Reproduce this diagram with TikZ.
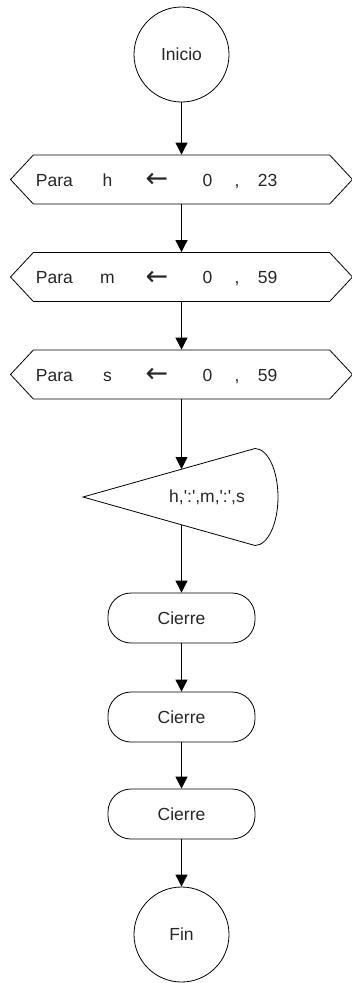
\documentclass[tikz,border=0pt]{standalone}
\usepackage{fontspec}
\setmainfont{Liberation Sans}
\newfontfamily\arrowfont{DejaVu Sans}
\usetikzlibrary{shapes.geometric, shapes.misc, shapes.symbols, calc, arrows.meta, positioning}
\tikzstyle{line} = [draw, -{Triangle[length=12pt, width=12pt]}]

\begin{document}
\begin{tikzpicture}[auto, node distance=100pt, line width=0.8pt, every node/.style={font=\fontsize{17.5}{20}\selectfont, text=black!85}]

  % Define styles
  \tikzstyle{terminal} = [circle, minimum size=95pt, inner sep=0pt, draw=black]
  \tikzstyle{loophead} = [signal, signal to=west and east, signal pointer angle=94, minimum width=342pt, minimum height=49pt, inner sep=0pt, draw=black]
  \tikzstyle{closing} = [rectangle, rounded corners=23pt, minimum width=147pt, minimum height=50pt, draw=black]
  \tikzstyle{field} = [inner sep=0pt, anchor=base]

  \useasboundingbox (0,0) rectangle (352pt,-983pt);

  % Place nodes
  \node [terminal] (inicio) at (181.5pt,-54.5pt) {Inicio};
  \node [loophead, below of=inicio, node distance=125pt] (forh) {};
  \node [loophead, below of=forh, node distance=97.5pt] (form) {};
  \node [loophead, below of=form, node distance=97.5pt] (fors) {};
  \node [below of=fors, node distance=122.5pt, xshift=25.5pt] (show) {h,\textquotesingle:\textquotesingle,m,\textquotesingle:\textquotesingle,s};
  \node [closing, below of=show, node distance=121pt, xshift=-25.5pt] (cierres) {Cierre};
  \node [closing, below of=cierres, node distance=99pt] (cierrem) {Cierre};
  \node [closing, below of=cierrem, node distance=97pt] (cierreh) {Cierre};
  \node [terminal, below of=cierreh, node distance=120.5pt] (fin) {Fin};

  % Fields of the loop heads
  \foreach \row/\var/\last in {forh/h/23, form/m/59, fors/s/59} {
    \node [field, anchor=base west] (\row-para) at ([xshift=-146pt, yshift=-6.5pt]\row.center) {Para};
    \node [field] (\row-var) at ([xshift=-74pt, yshift=-6.5pt]\row.center) {\var};
    \node [field, anchor=center] (\row-arrow) at ([xshift=-24.5pt, yshift=-1pt]\row.center) {\arrowfont\fontsize{27}{27}\selectfont ←};
    \node [field] (\row-first) at ([xshift=26pt, yshift=-6.5pt]\row.center) {0};
    \node [field] (\row-comma) at ([xshift=55.5pt, yshift=-6.5pt]\row.center) {,};
    \node [field, anchor=base west] (\row-last) at ([xshift=76pt, yshift=-6.5pt]\row.center) {\last};
  }

  % Display shape round the output
  \draw ([xshift=-124pt]show.center) -- ([xshift=48pt, yshift=48.5pt]show.center)
    arc[start angle=90, end angle=-90, x radius=23pt, y radius=48.5pt] -- cycle;
  \coordinate (showin) at ([xshift=-25.5pt, yshift=28pt]show.center);
  \coordinate (showout) at ([xshift=-25.5pt, yshift=-28pt]show.center);

  % Draw edges
  \path [line] (inicio) -- (forh);
  \path [line] (forh) -- (form);
  \path [line] (form) -- (fors);
  \path [line] (fors) -- (showin);
  \path [line] (showout) -- (cierres);
  \path [line] (cierres) -- (cierrem);
  \path [line] (cierrem) -- (cierreh);
  \path [line] (cierreh) -- (fin);

\end{tikzpicture}
\end{document}
